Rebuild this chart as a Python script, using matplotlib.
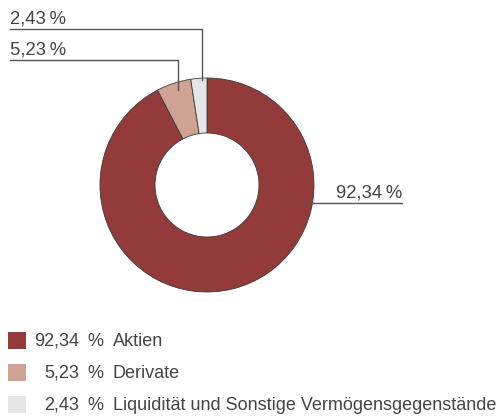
import matplotlib.pyplot as plt
from matplotlib.patches import Rectangle

# data
labels = ["Aktien", "Derivate", "Liquidität und Sonstige Vermögensgegenstände"]
values = [92.34, 5.23, 2.43]
value_text = ["92,34", "5,23", "2,43"]
colors = ["#933a3a", "#cfa394", "#e4e5e7"]

plt.rcParams['font.family'] = ['Liberation Sans', 'DejaVu Sans']

fig = plt.figure(figsize=(5.01, 4.16), dpi=100)
ax = fig.add_axes([0, 0, 1, 1])

# donut, pixel coords (y from bottom)
cx, cy, r = 207, 231, 107
ax.pie(values, colors=colors, startangle=90, counterclock=False,
       center=(cx, cy), radius=r, frame=True,
       wedgeprops=dict(width=r - 52, edgecolor="#3a3a3a", linewidth=0.6))
ax.set_xlim(0, 501)
ax.set_ylim(0, 416)
ax.set_aspect('equal')
ax.axis('off')

lc = "#555555"
tc = "#444444"
tkw = dict(fontsize=13.3, color=tc)
# 2,43 label
ax.plot([10, 202, 202], [387, 387, 336], color=lc, lw=1)
ax.text(10, 388.5, value_text[2] + "\u2009%", ha='left', va='bottom', **tkw)
# 5,23 label
ax.plot([10, 178, 178], [356, 356, 326], color=lc, lw=1)
ax.text(10, 357.5, value_text[1] + "\u2009%", ha='left', va='bottom', **tkw)
# 92,34 label
ax.plot([305, 402], [213, 213], color=lc, lw=1)
ax.text(402, 214.5, value_text[0] + "\u2009%", ha='right', va='bottom', **tkw)

# legend
ys = [75, 43, 11]
for y, lab, val, col in zip(ys, labels, value_text, colors):
    ax.add_patch(Rectangle((8, y - 8), 18, 17, facecolor=col, edgecolor='none'))
    ax.text(79, y, val, ha='right', va='center', fontsize=13, color=tc)
    ax.text(87, y, "%", ha='left', va='center', fontsize=13, color=tc)
    ax.text(113, y, lab, ha='left', va='center', fontsize=13, color=tc)

fig.savefig("out.png", dpi=100)
